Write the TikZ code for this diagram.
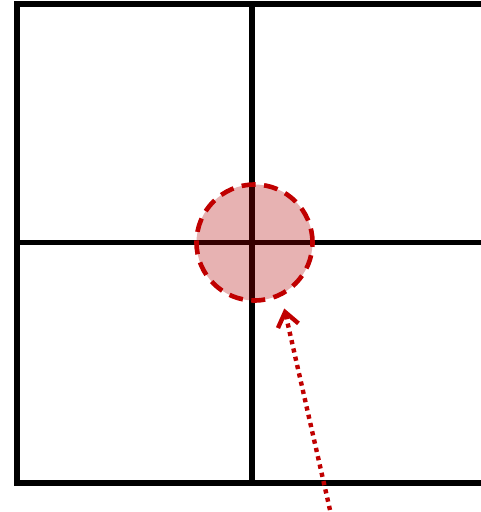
\documentclass[tikz,border=0pt]{standalone}
\usetikzlibrary{arrows.meta}
\definecolor{gridblack}{RGB}{0,0,0}
\definecolor{spotfill}{RGB}{178,0,0}
\definecolor{spotline}{RGB}{192,0,0}
\tikzset{
  gridline/.style={line width=5.8pt, draw=gridblack, line cap=rect},
  spot/.style={circle, minimum size=116pt, inner sep=0pt, fill=spotfill, fill opacity=0.3, draw=spotline, draw opacity=1, line width=4.6pt, dash pattern=on 14pt off 8.5pt},
  pointer/.style={draw=spotline, line width=4.4pt, dash pattern=on 4.2pt off 4.3pt, -{Straight Barb[length=14pt,width=21pt,line width=4.4pt]}}
}
\begin{document}
\begin{tikzpicture}[x=1pt,y=-1pt]
\useasboundingbox (0,0) rectangle (481,512);
\fill[white] (0,0) rectangle (481,512);
\coordinate (tl) at (16.8,3.8);
\coordinate (tr) at (481,3.8);
\coordinate (bl) at (16.8,483);
\coordinate (br) at (481,483);
\coordinate (mt) at (252,3.8);
\coordinate (mb) at (252,483);
\coordinate (ml) at (16.8,242.5);
\coordinate (mr) at (481,242.5);
\draw[gridline] (bl) -- (tl) -- (tr);
\draw[gridline] (bl) -- (br);
\draw[gridline] (mt) -- (mb);
\draw[gridline] (ml) -- (mr);
\node[spot] (circ) at (254.5,242.5) {};
\coordinate (tail) at (330,510);
\coordinate (tip) at (284.3,308.5);
\draw[pointer] (tail) -- (tip);
\end{tikzpicture}
\end{document}
